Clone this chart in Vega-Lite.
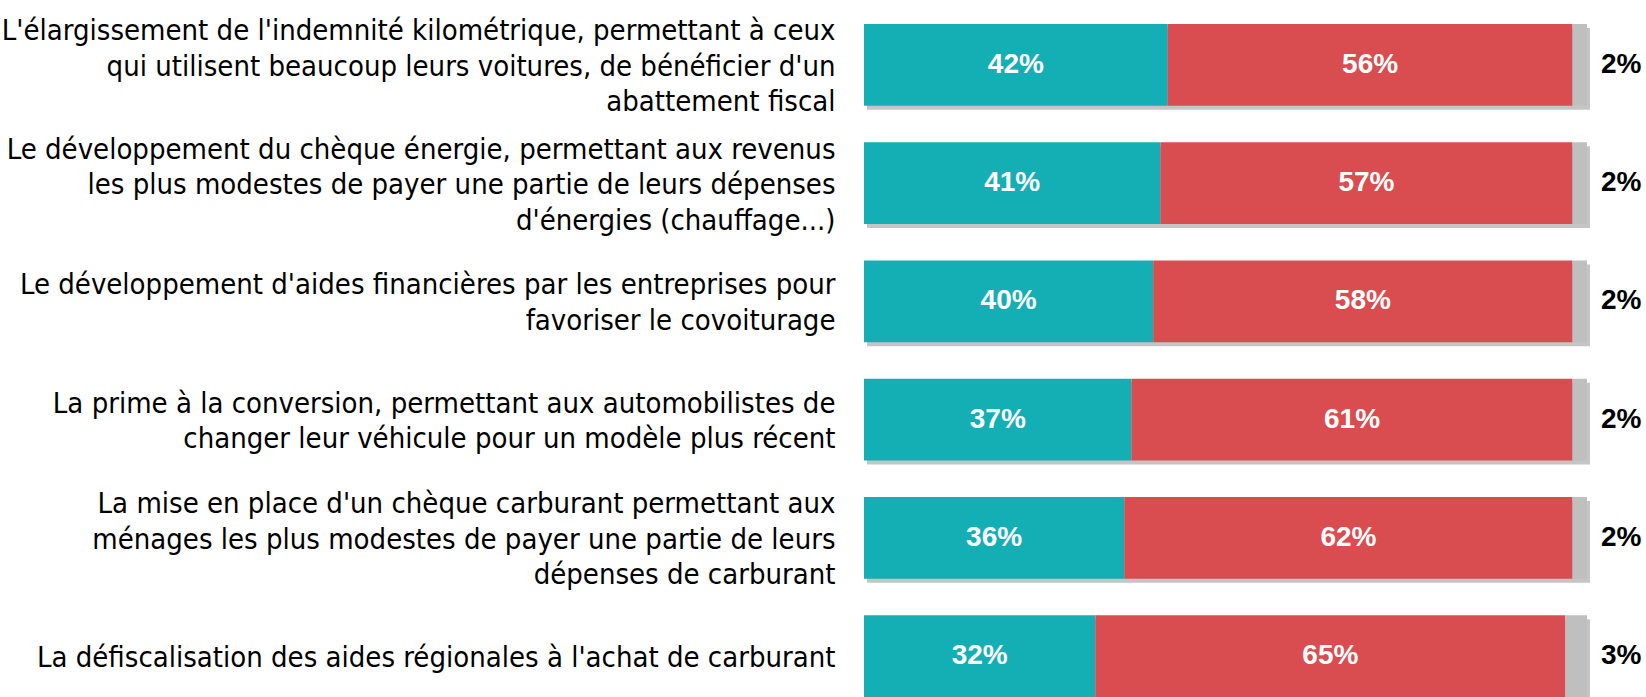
{
  "$schema": "https://vega.github.io/schema/vega-lite/v6.json",
  "width": 723,
  "height": 697,
  "autosize": {"type": "none"},
  "padding": {"left": 864, "top": 0, "right": 59, "bottom": 0},
  "background": "white",
  "config": {"view": {"stroke": null}},
  "data": {"values": [
    {"item": "L'élargissement de l'indemnité kilométrique, permettant à ceux|qui utilisent beaucoup leurs voitures, de bénéficier d'un|abattement fiscal", "rep": "Oui", "ordre": 1, "value": 0.42},
    {"item": "L'élargissement de l'indemnité kilométrique, permettant à ceux|qui utilisent beaucoup leurs voitures, de bénéficier d'un|abattement fiscal", "rep": "Non", "ordre": 2, "value": 0.56},
    {"item": "L'élargissement de l'indemnité kilométrique, permettant à ceux|qui utilisent beaucoup leurs voitures, de bénéficier d'un|abattement fiscal", "rep": "NSP", "ordre": 3, "value": 0.02},
    {"item": "Le développement du chèque énergie, permettant aux revenus|les plus modestes de payer une partie de leurs dépenses|d'énergies (chauffage...)", "rep": "Oui", "ordre": 1, "value": 0.41},
    {"item": "Le développement du chèque énergie, permettant aux revenus|les plus modestes de payer une partie de leurs dépenses|d'énergies (chauffage...)", "rep": "Non", "ordre": 2, "value": 0.57},
    {"item": "Le développement du chèque énergie, permettant aux revenus|les plus modestes de payer une partie de leurs dépenses|d'énergies (chauffage...)", "rep": "NSP", "ordre": 3, "value": 0.02},
    {"item": "Le développement d'aides financières par les entreprises pour|favoriser le covoiturage", "rep": "Oui", "ordre": 1, "value": 0.40},
    {"item": "Le développement d'aides financières par les entreprises pour|favoriser le covoiturage", "rep": "Non", "ordre": 2, "value": 0.58},
    {"item": "Le développement d'aides financières par les entreprises pour|favoriser le covoiturage", "rep": "NSP", "ordre": 3, "value": 0.02},
    {"item": "La prime à la conversion, permettant aux automobilistes de|changer leur véhicule pour un modèle plus récent", "rep": "Oui", "ordre": 1, "value": 0.37},
    {"item": "La prime à la conversion, permettant aux automobilistes de|changer leur véhicule pour un modèle plus récent", "rep": "Non", "ordre": 2, "value": 0.61},
    {"item": "La prime à la conversion, permettant aux automobilistes de|changer leur véhicule pour un modèle plus récent", "rep": "NSP", "ordre": 3, "value": 0.02},
    {"item": "La mise en place d'un chèque carburant permettant aux|ménages les plus modestes de payer une partie de leurs|dépenses de carburant", "rep": "Oui", "ordre": 1, "value": 0.36},
    {"item": "La mise en place d'un chèque carburant permettant aux|ménages les plus modestes de payer une partie de leurs|dépenses de carburant", "rep": "Non", "ordre": 2, "value": 0.62},
    {"item": "La mise en place d'un chèque carburant permettant aux|ménages les plus modestes de payer une partie de leurs|dépenses de carburant", "rep": "NSP", "ordre": 3, "value": 0.02},
    {"item": "La défiscalisation des aides régionales à l'achat de carburant", "rep": "Oui", "ordre": 1, "value": 0.32},
    {"item": "La défiscalisation des aides régionales à l'achat de carburant", "rep": "Non", "ordre": 2, "value": 0.65},
    {"item": "La défiscalisation des aides régionales à l'achat de carburant", "rep": "NSP", "ordre": 3, "value": 0.03}
  ]},
  "transform": [
    {"stack": "value", "groupby": ["item"], "sort": [{"field": "ordre", "order": "ascending"}], "as": ["v0", "v1"]},
    {"calculate": "(datum.v0 + datum.v1) / 2", "as": "mid"}
  ],
  "encoding": {
    "y": {
      "field": "item", "type": "nominal", "sort": null,
      "scale": {"paddingInner": 0.309, "paddingOuter": 0.1015, "align": 1},
      "axis": {
        "title": null, "domain": false, "ticks": false,
        "labelExpr": "split(datum.label, '|')",
        "labelFont": "Liberation Sans Narrow, DejaVu Sans Condensed, Open Sans",
        "labelFontSize": 29, "labelLineHeight": 35.5, "labelColor": "#000000",
        "labelAlign": "right", "labelBaseline": "middle",
        "labelOffset": {"condition": [
          {"test": "length(split(datum.label, '|')) == 3", "value": -33.5},
          {"test": "length(split(datum.label, '|')) == 2", "value": -16}
        ], "value": 2},
        "labelPadding": 29, "labelLimit": 1000
      }
    }
  },
  "layer": [
    {
      "transform": [{"filter": "datum.ordre == 3"}],
      "mark": {"type": "bar", "color": "#6f6f6f", "opacity": 0.4, "xOffset": 3, "x2Offset": 3, "yOffset": 4, "y2Offset": 4},
      "encoding": {
        "x": {"field": "v1", "type": "quantitative", "scale": {"domain": [0, 1]}, "axis": null},
        "x2": {"datum": 0}
      }
    },
    {
      "mark": {"type": "bar"},
      "encoding": {
        "x": {"field": "v0", "type": "quantitative", "scale": {"domain": [0, 1]}, "axis": null},
        "x2": {"field": "v1"},
        "color": {
          "field": "rep", "type": "nominal", "legend": null,
          "scale": {"domain": ["Oui", "Non", "NSP"], "range": ["#14AEB5", "#D94D50", "#BFBFBF"]}
        }
      }
    },
    {
      "transform": [{"filter": "datum.ordre < 3"}],
      "mark": {"type": "text", "color": "white", "fontWeight": "bold", "fontSize": 28, "font": "Liberation Sans", "align": "center", "baseline": "middle"},
      "encoding": {
        "x": {"field": "mid", "type": "quantitative"},
        "text": {"field": "value", "type": "quantitative", "format": ".0%"}
      }
    },
    {
      "transform": [{"filter": "datum.ordre == 3"}],
      "mark": {"type": "text", "color": "black", "fontWeight": "bold", "fontSize": 28, "font": "Liberation Sans", "align": "left", "baseline": "middle", "dx": 14},
      "encoding": {
        "x": {"field": "v1", "type": "quantitative"},
        "text": {"field": "value", "type": "quantitative", "format": ".0%"}
      }
    }
  ]
}
